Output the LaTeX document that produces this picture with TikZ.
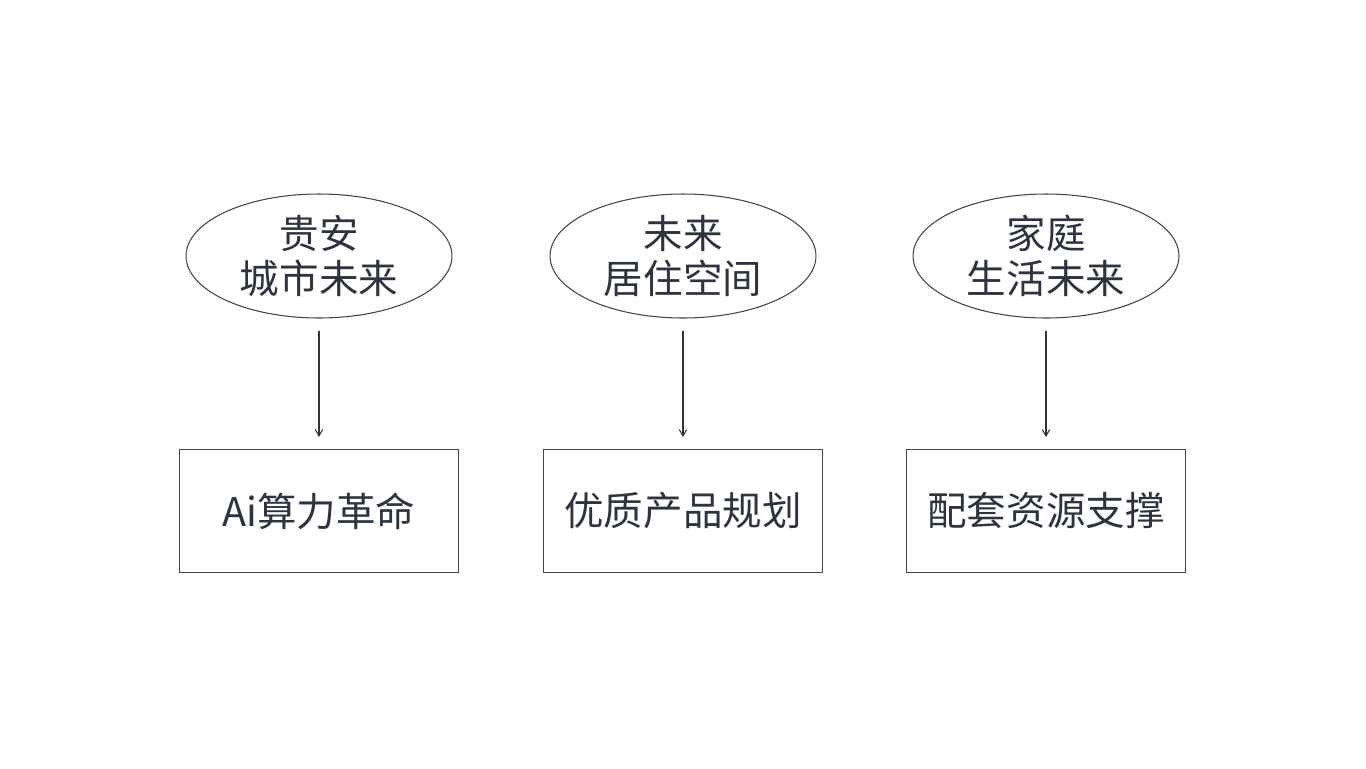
\documentclass[tikz,border=0pt]{standalone}
\usepackage{fontspec}
\setmainfont{Noto Sans CJK SC}
\usetikzlibrary{arrows,shapes}
\definecolor{txt}{HTML}{2D3440}
\definecolor{edge}{HTML}{444444}
\tikzset{
    goal/.style={ellipse,draw=edge,line width=0.6pt,minimum width=5.32cm,minimum height=2.48cm,
        text=txt,font=\fontsize{22.5}{25.5}\selectfont,align=center,inner sep=0pt},
    task/.style={rectangle,draw=edge,line width=0.6pt,minimum width=5.58cm,minimum height=2.46cm,
        text=txt,font=\fontsize{22.5}{25.5}\selectfont,inner sep=0pt},
    link/.style={->,>=angle 60,draw=txt,line width=0.6pt}
}
\begin{document}
\begin{tikzpicture}[x=0.02cm,y=-0.02cm]
    \fill[white] (0,0) rectangle (1366,768);
    \node[goal] (g1) at (319,256) {贵安\\城市未来};
    \node[goal] (g2) at (683,256) {未来\\居住空间};
    \node[goal] (g3) at (1046,256) {家庭\\生活未来};
    \node[task] (t1) at (319,511) {Ai算力革命};
    \node[task] (t2) at (683,511) {优质产品规划};
    \node[task] (t3) at (1046,511) {配套资源支撑};
    % arrows
    \draw[link] ([yshift=-0.24cm]g1.south) -- ([yshift=0.24cm]t1.north);
    \draw[link] ([yshift=-0.24cm]g2.south) -- ([yshift=0.24cm]t2.north);
    \draw[link] ([yshift=-0.24cm]g3.south) -- ([yshift=0.24cm]t3.north);
\end{tikzpicture}
\end{document}
